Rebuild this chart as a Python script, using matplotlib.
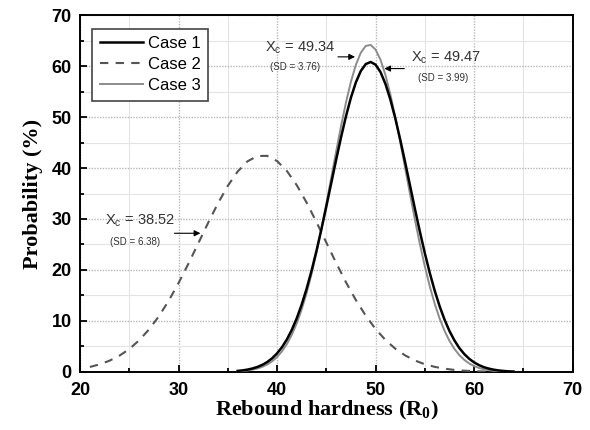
import numpy as np
import matplotlib
matplotlib.use("Agg")
import matplotlib.pyplot as plt
from matplotlib.ticker import MultipleLocator

# values
x_narrow = np.arange(36, 64.01, 0.5)
case1 = [0.20, 0.31, 0.46, 0.68, 0.98, 1.39, 1.94, 2.68, 3.64, 4.86,
         6.39, 8.27, 10.54, 13.22, 16.33, 19.85, 23.75, 27.99, 32.46, 37.06,
         41.65, 46.09, 50.20, 53.83, 56.81, 59.03, 60.38, 60.80, 60.26, 58.81,
         56.49, 53.42, 49.73, 45.58, 41.11, 36.51, 31.91, 27.47, 23.27, 19.41,
         15.94, 12.88, 10.25, 8.02, 6.19, 4.69, 3.51, 2.58, 1.87, 1.33,
         0.93, 0.65, 0.44, 0.29, 0.19, 0.12, 0.08]
case3 = [0.12, 0.19, 0.29, 0.45, 0.68, 1.01, 1.46, 2.09, 2.93, 4.05,
         5.48, 7.30, 9.55, 12.27, 15.49, 19.22, 23.42, 28.04, 32.98, 38.11,
         43.27, 48.27, 52.90, 56.96, 60.25, 62.62, 63.94, 64.14, 63.22, 61.22,
         58.24, 54.43, 49.99, 45.10, 39.98, 34.81, 29.78, 25.04, 20.68, 16.78,
         13.37, 10.47, 8.06, 6.09, 4.52, 3.30, 2.37, 1.67, 1.15, 0.78,
         0.52, 0.34, 0.22, 0.14, 0.09, 0.05, 0.03]
x_wide = np.arange(21, 62.01, 1.0)
case2 = [0.98, 1.49, 2.21, 3.19, 4.50, 6.20, 8.33, 10.91, 13.96, 17.43,
         21.22, 25.21, 29.23, 33.07, 36.50, 39.31, 41.31, 42.36, 42.38, 41.37,
         39.41, 36.63, 33.21, 29.39, 25.38, 21.37, 17.57, 14.09, 11.03, 8.42,
         6.27, 4.56, 3.24, 2.24, 1.51, 1.00, 0.64, 0.40, 0.25, 0.15,
         0.09, 0.05]

fig = plt.figure(figsize=(5.9, 4.3), dpi=100)
ax = fig.add_axes([0.1356, 0.135, 0.835, 0.83])

ax.plot(x_narrow, case1, color="black", lw=1.8, label="Case 1", zorder=4)
ax.plot(x_wide, case2, color="#555555", lw=1.5, ls=(0, (4, 3.5)), label="Case 2", zorder=3)
ax.plot(x_narrow, case3, color="#8c8c8c", lw=1.4, label="Case 3", zorder=3)

ax.set_xlim(20, 70)
ax.set_ylim(0, 70)
ax.xaxis.set_major_locator(MultipleLocator(10))
ax.xaxis.set_minor_locator(MultipleLocator(5))
ax.yaxis.set_major_locator(MultipleLocator(10))
ax.yaxis.set_minor_locator(MultipleLocator(5))
ax.grid(which="major", color="#b8b8b8", ls=(0, (1, 1)), lw=1.0)
ax.grid(which="minor", color="#e4e4e4", ls="-", lw=0.8)
ax.set_axisbelow(True)
ax.tick_params(which="both", direction="in", top=False, right=False, width=1.3)
ax.tick_params(which="major", length=5)
ax.tick_params(which="minor", length=3)
ax.tick_params(axis="x", which="major", pad=7)
ax.tick_params(axis="y", which="major", pad=6)
for lab in ax.get_xticklabels() + ax.get_yticklabels():
    lab.set_fontfamily("Liberation Sans")
    lab.set_fontweight("bold")
    lab.set_fontsize(13)
for s in ax.spines.values():
    s.set_linewidth(1.4)

ax.set_xlabel("Rebound hardness (R$_\\mathregular{0}$)", family="Liberation Serif",
              fontweight="bold", fontsize=16, labelpad=0)
ax.set_ylabel("Probability (%)", family="Liberation Serif",
              fontweight="bold", fontsize=16, labelpad=6)

leg = ax.legend(loc="upper left", prop={"family": "Liberation Sans", "size": 12},
                handlelength=2.6, handletextpad=0.3, borderpad=0.45, labelspacing=0.36,
                fancybox=False, edgecolor="#444444", framealpha=1,
                bbox_to_anchor=(0.008, 0.985))
leg.get_frame().set_linewidth(1.2)

tcol = "#333333"
akw = dict(arrowstyle="-|>", color="black", lw=0.8, mutation_scale=9)
# Case 3 annotation
ax.text(38.8, 63.7, "X$_\\mathregular{c}$ = 49.34", family="Liberation Sans",
        fontsize=10.5, color=tcol, va="center", ha="left")
ax.text(41.8, 59.9, "(SD = 3.76)", family="Liberation Sans", fontsize=7,
        color=tcol, va="center", ha="center")
ax.annotate("", xy=(48.2, 61.8), xytext=(45.9, 61.8), arrowprops=akw)
# Case 1 annotation
ax.text(53.6, 61.6, "X$_\\mathregular{c}$ = 49.47", family="Liberation Sans",
        fontsize=10.5, color=tcol, va="center", ha="left")
ax.text(56.9, 57.6, "(SD = 3.99)", family="Liberation Sans", fontsize=7,
        color=tcol, va="center", ha="center")
ax.annotate("", xy=(50.6, 59.5), xytext=(53.2, 59.5), arrowprops=akw)
# Case 2 annotation
ax.text(22.5, 29.6, "X$_\\mathregular{c}$ = 38.52", family="Liberation Sans",
        fontsize=10.5, color=tcol, va="center", ha="left")
ax.text(25.6, 25.4, "(SD = 6.38)", family="Liberation Sans", fontsize=7,
        color=tcol, va="center", ha="center")
ax.annotate("", xy=(32.5, 27.2), xytext=(29.3, 27.2), arrowprops=akw)

fig.savefig("out.png", dpi=100)
